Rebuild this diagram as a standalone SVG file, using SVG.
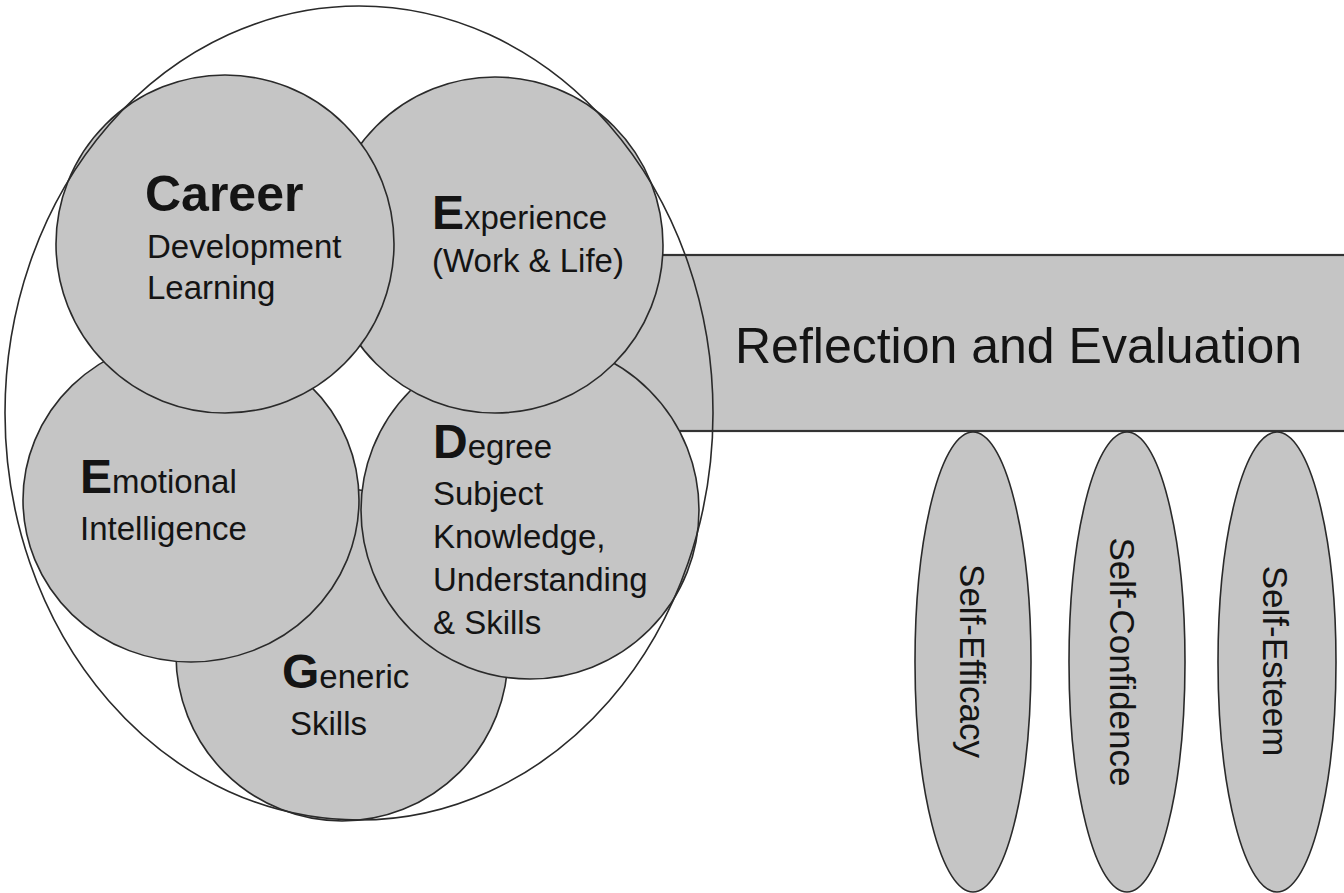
<svg xmlns="http://www.w3.org/2000/svg" width="1344" height="893" viewBox="0 0 1344 893">
<style>
.shape{fill:#c5c5c5;stroke:#2a2a2a;stroke-width:1.6}
.bar{fill:#c5c5c5;stroke:#333333;stroke-width:2.2}
.outer{fill:none;stroke:#2a2a2a;stroke-width:1.6}
text{font-family:"Liberation Sans",Arial,Helvetica,sans-serif;fill:#141414}
.reg{font-size:33px}
.big{font-size:48px;font-weight:bold}
.career{font-size:50px;font-weight:bold}
.title{font-size:50px}
.rot{font-size:35px;text-anchor:middle}
</style>
<rect x="0" y="0" width="1344" height="893" fill="#ffffff"/>
<g id="reflection">
<rect class="bar" x="600" y="255" width="760" height="176"/>
<text class="title" x="735" y="363">Reflection and Evaluation</text>
</g>
<g id="generic">
<circle class="shape" cx="342" cy="655" r="166"/>
<text x="282" y="688"><tspan class="big">G</tspan><tspan class="reg">eneric</tspan></text>
<text class="reg" x="290" y="735">Skills</text>
</g>
<g id="degree">
<circle class="shape" cx="530" cy="510" r="169"/>
<text x="433" y="458"><tspan class="big">D</tspan><tspan class="reg">egree</tspan></text>
<text class="reg" x="433" y="505">Subject</text>
<text class="reg" x="433" y="548">Knowledge,</text>
<text class="reg" x="433" y="591">Understanding</text>
<text class="reg" x="433" y="634">&amp; Skills</text>
</g>
<g id="emotional">
<ellipse class="shape" cx="191" cy="500" rx="168" ry="162"/>
<text x="80" y="493"><tspan class="big">E</tspan><tspan class="reg">motional</tspan></text>
<text class="reg" x="80" y="540">Intelligence</text>
</g>
<g id="experience">
<circle class="shape" cx="495" cy="245" r="168"/>
<text x="432" y="229"><tspan class="big">E</tspan><tspan class="reg">xperience</tspan></text>
<text class="reg" x="432" y="272">(Work &amp; Life)</text>
</g>
<g id="career">
<circle class="shape" cx="225" cy="244" r="169"/>
<text class="career" x="145" y="211">Career</text>
<text class="reg" x="147" y="258">Development</text>
<text class="reg" x="147" y="299">Learning</text>
</g>
<g id="careeredge-container">
<ellipse class="outer" cx="359" cy="413" rx="354" ry="407"/>
</g>
<g id="self-efficacy">
<ellipse class="shape" cx="973" cy="662" rx="58" ry="230"/>
<text class="rot" transform="translate(960,661) rotate(90)">Self-Efficacy</text>
</g>
<g id="self-confidence">
<ellipse class="shape" cx="1127" cy="662" rx="58" ry="230"/>
<text class="rot" transform="translate(1110,662) rotate(90)">Self-Confidence</text>
</g>
<g id="self-esteem">
<ellipse class="shape" cx="1277" cy="662" rx="59" ry="230"/>
<text class="rot" transform="translate(1263,661) rotate(90)">Self-Esteem</text>
</g>
<g id="connectors"></g>
</svg>
